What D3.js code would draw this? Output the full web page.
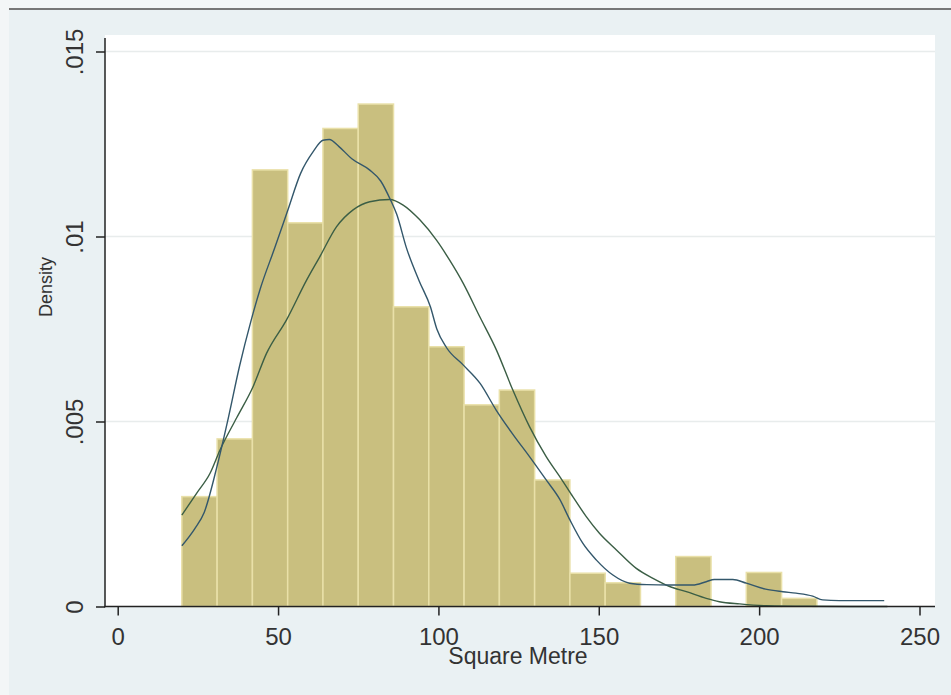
<!DOCTYPE html>
<html>
<head>
<meta charset="utf-8">
<script src="https://cdn.jsdelivr.net/npm/d3@7"></script>
<style>
    body { margin: 0; background: #f3f6f7; }
    svg { display: block; font-family: "Liberation Sans", Arial, sans-serif; }
</style>
</head>
<body>
<div id="wrapper"></div>
<script>
// histogram bins (lower edge) and density, bin width 11
let binLo = [20, 31, 42, 53, 64, 75, 86, 97, 108, 119, 130, 141, 152, 163, 174, 185, 196, 207, 218, 229];
let binWidth = 11;
let density = [0.00297, 0.00453, 0.0118, 0.01037, 0.01292, 0.01358, 0.0081, 0.00702, 0.00545, 0.00585,
    0.00342, 0.0009, 0.00064, 0, 0.00135, 0, 0.00092, 0.00022, 0, 0];

// kernel density curve
let kdeX = [20, 24, 27, 31, 34.5, 38, 41.5, 44.5, 49, 53, 57, 61, 64, 66, 69, 73, 78.5, 82, 85, 87, 90, 94,
    97.5, 99.5, 102.5, 107.7, 113, 118, 123, 128.4, 133.6, 137.8, 141, 145, 149.2, 154.4, 159.6, 165, 172,
    179.3, 183.5, 186, 191.8, 196, 202, 207.4, 211.5, 216.7, 219.8, 225, 239];
let kdeY = [0.00164, 0.0021, 0.00255, 0.0038, 0.0051, 0.0065, 0.0077, 0.0086, 0.0097, 0.0107, 0.0117, 0.0123,
    0.0126, 0.01262, 0.01243, 0.0121, 0.0118, 0.0115, 0.011, 0.0106, 0.0097, 0.0088, 0.0081, 0.0075, 0.007,
    0.00653, 0.00603, 0.00531, 0.00468, 0.00405, 0.00342, 0.0029, 0.00234, 0.00171, 0.00126, 0.00085, 0.00063,
    0.00059, 0.00058, 0.00058, 0.00067, 0.00073, 0.00073, 0.00063, 0.00047, 0.0004, 0.00036, 0.00028, 0.00018,
    0.00016, 0.00016];

// normal density curve
let normX = [20, 24.6, 28.8, 31.9, 37.1, 42.2, 46.4, 52.6, 58.9, 63, 68.2, 73.4, 78.6, 84.8, 89, 94.2, 99.4,
    103.5, 107.7, 112.9, 118.1, 123.2, 128.4, 133.6, 138.3, 141.9, 146.1, 150.2, 155.5, 161.7, 166.9, 172.1,
    177.3, 183.5, 187.6, 193.9, 202.2, 215, 240];
let normY = [0.00247, 0.00306, 0.0036, 0.00423, 0.0051, 0.00594, 0.00684, 0.00774, 0.00882, 0.00945, 0.01026,
    0.01072, 0.01094, 0.011, 0.01085, 0.01045, 0.0099, 0.00936, 0.00874, 0.00783, 0.00693, 0.00585, 0.00486,
    0.00405, 0.00345, 0.00297, 0.00243, 0.00198, 0.00153, 0.00103, 0.00076, 0.00054, 0.0004, 0.00022, 0.00013,
    0.00007, 0.00002, 0.000005, 0];

let xTicks = [0, 50, 100, 150, 200, 250];
let yTicks = [0, 0.005, 0.01, 0.015];
let yTickLabels = ["0", ".005", ".01", ".015"];

let wSvg = 951;
let hSvg = 695;

let svg = d3.select("#wrapper")
    .append("svg")
    .attr("width", wSvg)
    .attr("height", hSvg);

// graph region
svg.append("rect")
    .attr("x", 9).attr("y", 8)
    .attr("width", wSvg - 9).attr("height", hSvg - 8)
    .attr("fill", "#eaf1f3");
svg.append("rect")
    .attr("x", 9).attr("y", 8)
    .attr("width", wSvg - 9).attr("height", 2)
    .attr("fill", "#777");

// plot region
let plotLeft = 105, plotRight = 935, plotTop = 35, plotBottom = 606.5;
svg.append("rect")
    .attr("x", plotLeft).attr("y", plotTop)
    .attr("width", plotRight - plotLeft).attr("height", plotBottom - plotTop)
    .attr("fill", "#ffffff");

let xScale = d3.scaleLinear().domain([0, 250]).range([117.7, 919.5]);
let yScale = d3.scaleLinear().domain([0, 0.015]).range([606.5, 51.5]);

// grid lines
svg.selectAll(".grid")
    .data(yTicks.slice(1))
    .enter()
    .append("line")
    .attr("class", "grid")
    .attr("x1", plotLeft).attr("x2", plotRight)
    .attr("y1", d => yScale(d)).attr("y2", d => yScale(d))
    .attr("stroke", "#e8ecec")
    .attr("stroke-width", 1.5);

// bars
let bars = binLo.map((d, i) => ({ lo: d, hi: d + binWidth, v: density[i] })).filter(d => d.v > 0);
svg.selectAll(".bar")
    .data(bars)
    .enter()
    .append("rect")
    .attr("class", "bar")
    .attr("x", d => xScale(d.lo))
    .attr("y", d => yScale(d.v))
    .attr("width", d => xScale(d.hi) - xScale(d.lo))
    .attr("height", d => yScale(0) - yScale(d.v))
    .attr("fill", "#c9bf7f")
    .attr("stroke", "#e9e0a8")
    .attr("stroke-width", 1.5);

// curves
let line = d3.line()
    .x(d => xScale(d[0]))
    .y(d => yScale(d[1]))
    .curve(d3.curveMonotoneX);

svg.append("path")
    .datum(normX.map((d, i) => [d, normY[i]]))
    .attr("d", line)
    .attr("fill", "none")
    .attr("stroke", "#3b5e45")
    .attr("stroke-width", 1.4);

svg.append("path")
    .datum(kdeX.map((d, i) => [d, kdeY[i]]))
    .attr("d", line)
    .attr("fill", "none")
    .attr("stroke", "#33576b")
    .attr("stroke-width", 1.4);

// axes
let yAxis = svg.append("g")
    .attr("transform", `translate(${plotLeft},0)`)
    .call(d3.axisLeft(yScale).tickValues(yTicks).tickSize(9).tickSizeOuter(0)
        .tickFormat((d, i) => yTickLabels[i]));
yAxis.select(".domain").remove();
yAxis.selectAll("line").attr("stroke", "#222").attr("stroke-width", 1.5);
yAxis.selectAll("text")
    .attr("transform", "rotate(-90)")
    .attr("x", 0)
    .attr("y", -22)
    .attr("dy", 0)
    .attr("text-anchor", "middle")
    .attr("fill", "#333")
    .style("font-size", "24px");

let xAxis = svg.append("g")
    .attr("transform", `translate(0,${plotBottom})`)
    .call(d3.axisBottom(xScale).tickValues(xTicks).tickSize(9).tickSizeOuter(0));
xAxis.select(".domain").remove();
xAxis.selectAll("line").attr("stroke", "#222").attr("stroke-width", 1.5);
xAxis.selectAll("text")
    .attr("y", 38)
    .attr("dy", 0)
    .attr("fill", "#333")
    .style("font-size", "24px");

svg.append("line")
    .attr("x1", plotLeft).attr("x2", plotLeft)
    .attr("y1", 38).attr("y2", plotBottom + 0.75)
    .attr("stroke", "#222").attr("stroke-width", 1.5);
svg.append("line")
    .attr("x1", plotLeft - 0.75).attr("x2", plotRight)
    .attr("y1", plotBottom).attr("y2", plotBottom)
    .attr("stroke", "#222").attr("stroke-width", 1.5);

// axis titles
svg.append("text")
    .attr("x", 518).attr("y", 664)
    .attr("text-anchor", "middle")
    .attr("fill", "#333")
    .style("font-size", "23px")
    .text("Square Metre");

svg.append("text")
    .attr("transform", "translate(52,287) rotate(-90)")
    .attr("text-anchor", "middle")
    .attr("fill", "#333")
    .style("font-size", "18px")
    .text("Density");
</script>
</body>
</html>
